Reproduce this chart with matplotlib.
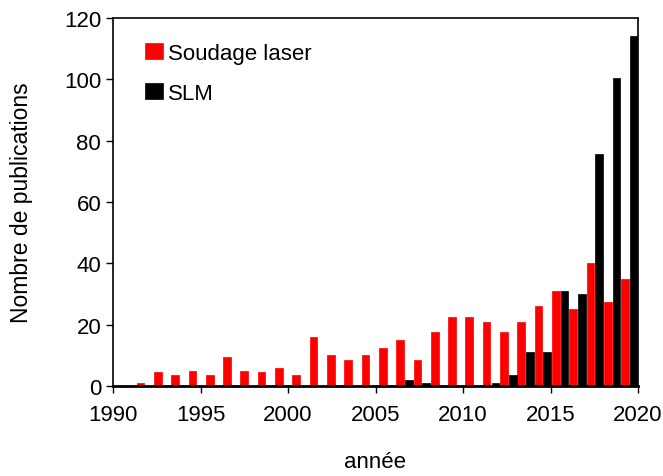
import numpy as np
import matplotlib.pyplot as plt

annees = np.arange(1991, 2020)
soudage = [1, 4.5, 3.5, 5, 3.5, 9.5, 5, 4.5, 6, 3.5, 16, 10, 8.5, 10, 12.5,
           15, 8.5, 17.5, 22.5, 22.5, 21, 17.5, 21, 26, 31, 25, 40, 27.5, 35]
slm = [0, 0, 0, 0, 0, 0, 0, 0, 0, 0, 0, 0, 0, 0, 0,
       2, 1, 0, 0, 0, 1, 3.5, 11, 11, 31, 30, 75.5, 100.5, 114]

plt.rcParams['font.family'] = ['Liberation Sans', 'DejaVu Sans']

fig = plt.figure(figsize=(6.63, 4.77), dpi=100)
ax = fig.add_axes([113 / 663, 90 / 477, 525 / 663, 368 / 477])

# category axis slightly narrower than the year axis (excel style)
pos = 1991.57 + (annees - 1991) * 0.989
w = 0.44
s = np.array(soudage, dtype=float)
m = np.array(slm, dtype=float)
ax.bar(pos[s > 0], s[s > 0], width=w, color='#ff0000', edgecolor='#ff0000',
       linewidth=0.5, joinstyle='round', label='Soudage laser', zorder=2)
ax.bar(pos[m > 0] + 0.5, m[m > 0], width=w, color='black', edgecolor='black',
       linewidth=0.5, joinstyle='round', label='SLM', zorder=2)

ax.set_xlim(1990, 2020)
ax.set_ylim(0, 120)
ax.set_xticks(range(1990, 2021, 5))
ax.set_yticks(range(0, 121, 20))
ax.tick_params(labelsize=16, width=1, length=5, direction='out')
ax.tick_params(axis='x', pad=8)
for sp in ax.spines.values():
    sp.set_linewidth(1.2)
ax.spines['bottom'].set_linewidth(2)
ax.spines['bottom'].set_zorder(3)

ax.set_xlabel('année', fontsize=16, labelpad=19)
ax.set_ylabel('Nombre de publications', fontsize=16.5, labelpad=22)

ax.legend(loc='upper left', frameon=False, fontsize=16, handlelength=0.8,
          handleheight=0.75, handletextpad=0.2, labelspacing=0.85,
          borderaxespad=0.3, bbox_to_anchor=(0.032, 0.975))

fig.savefig('out.png', dpi=100)
